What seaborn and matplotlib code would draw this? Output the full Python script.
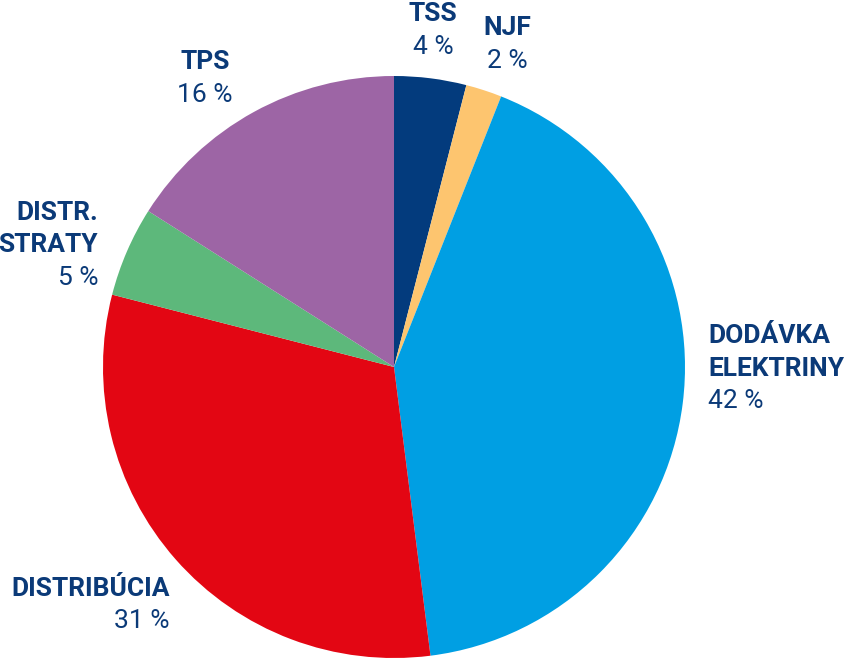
import matplotlib.pyplot as plt
import seaborn as sns

sns.set_theme(style="white")
plt.rcParams["font.family"] = ["Roboto", "DejaVu Sans"]

# data
names = ["TSS", "NJF", "DODÁVKA\nELEKTRINY", "DISTRIBÚCIA", "DISTR.\nSTRATY", "TPS"]
shares = [4, 2, 42, 31, 5, 16]
colors = ["#033b7d", "#fdc56f", "#009fe3", "#e30613", "#5db87b", "#9d65a5"]

# label anchors in pixels (x, y of first line, alignment)
label_pos = [
    (433, 14, "center"),
    (507, 28, "center"),
    (708, 336, "left"),
    (170, 589, "right"),
    (98, 213, "right"),
    (205, 62, "center"),
]
W, H = 850, 660
text_color = "#0b3a78"
line_px = 32.5

fig = plt.figure(figsize=(W / 100, H / 100), dpi=100)
cx, cy, r = 394, 367, 291
ax = fig.add_axes([(cx - r) / W, 1 - (cy + r) / H, 2 * r / W, 2 * r / H])
ax.pie(shares, colors=colors, startangle=90, counterclock=False,
       radius=1, wedgeprops=dict(linewidth=0))
ax.set_xlim(-1, 1)
ax.set_ylim(-1, 1)
ax.set_aspect("equal")
ax.axis("off")

for name, share, (x, y, ha) in zip(names, shares, label_pos):
    lines = name.split("\n")
    for i, line in enumerate(lines):
        fig.text(x / W, 1 - (y + i * line_px) / H, line, ha=ha, va="center",
                 fontsize=19, fontweight="bold", color=text_color)
    fig.text(x / W, 1 - (y + len(lines) * line_px) / H, f"{share} %", ha=ha,
             va="center", fontsize=19, color=text_color)

fig.savefig("out.png", dpi=100)
